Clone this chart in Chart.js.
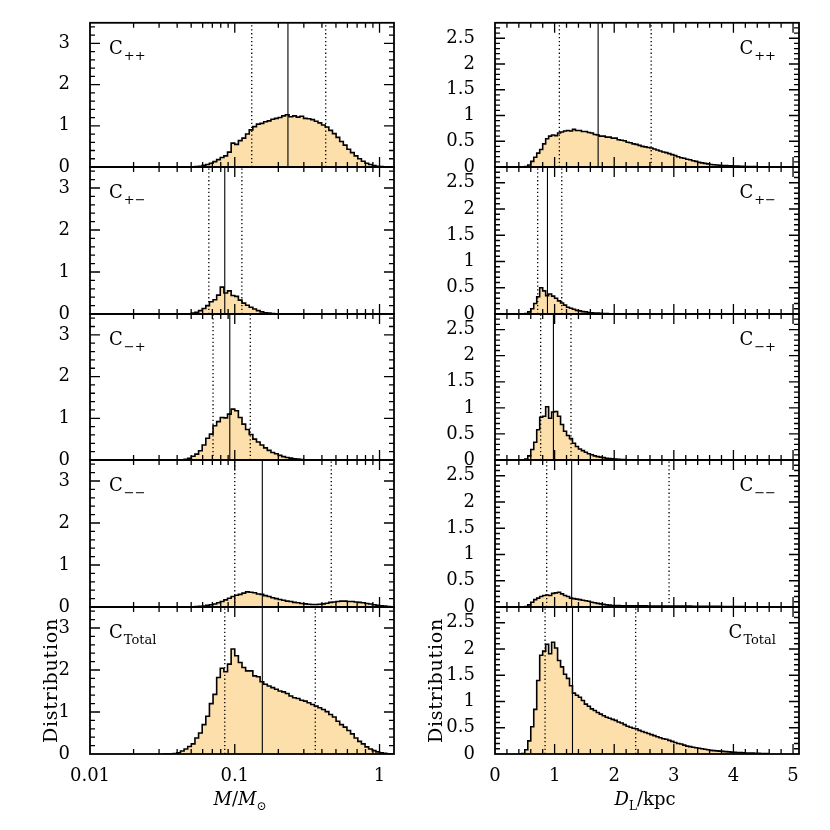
<!DOCTYPE html>
<html>
<head>
<meta charset="utf-8">
<script src="https://cdn.jsdelivr.net/npm/chart.js@4.4.1/dist/chart.umd.min.js"></script>
<style>
  html, body { margin: 0; padding: 0; background: #fff; }
  #wrap { position: relative; width: 830px; height: 830px; }
  #wrap canvas { position: absolute; top: 0; }
</style>
</head>
<body>
<div id="wrap"></div>
<script>
// Mass histograms: bins in log10(M/Msun)
const massLogStart = -1.5;
const massLogStep = 0.025;
// Distance histograms: bins in kpc
const distStart = 0.4;
const distStep = 0.05;

const massPP = [
  0, 0, 0, 0, 0, 0, 0, 0,
  0.005, 0.01, 0.02, 0.04, 0.06, 0.09, 0.13, 0.18,
  0.23, 0.27, 0.36, 0.58, 0.55, 0.64, 0.70, 0.80,
  0.90, 0.98, 1.04, 1.06, 1.10, 1.12, 1.16, 1.18,
  1.20, 1.24, 1.27, 1.22, 1.24, 1.21, 1.23, 1.18,
  1.17, 1.15, 1.11, 1.07, 1.02, 0.97, 0.89, 0.81,
  0.72, 0.62, 0.53, 0.43, 0.35, 0.27, 0.20, 0.14,
  0.09, 0.06, 0.035, 0.02, 0.01, 0.005, 0, 0
];
const massPM = [
  0, 0, 0, 0, 0, 0, 0, 0.005,
  0.02, 0.04, 0.08, 0.13, 0.20, 0.29, 0.34, 0.45,
  0.64, 0.50, 0.55, 0.44, 0.42, 0.33, 0.26, 0.21,
  0.16, 0.12, 0.08, 0.05, 0.03, 0.02, 0.01, 0.005
];
const massMP = [
  0, 0, 0, 0, 0, 0.005, 0.015, 0.04,
  0.09, 0.14, 0.22, 0.36, 0.52, 0.62, 0.82, 0.92,
  1.02, 1.01, 1.10, 1.22, 1.18, 1.02, 0.86, 0.73,
  0.61, 0.50, 0.43, 0.36, 0.29, 0.23, 0.18, 0.15,
  0.11, 0.08, 0.06, 0.045, 0.03, 0.02, 0.01, 0.005
];
const massMM = [
  0, 0, 0, 0, 0, 0, 0, 0,
  0.005, 0.01, 0.015, 0.025, 0.04, 0.055, 0.07, 0.10,
  0.13, 0.17, 0.21, 0.25, 0.28, 0.30, 0.33, 0.36,
  0.35, 0.34, 0.31, 0.30, 0.27, 0.25, 0.22, 0.20,
  0.18, 0.16, 0.14, 0.13, 0.11, 0.10, 0.085, 0.075,
  0.065, 0.06, 0.06, 0.065, 0.075, 0.09, 0.11, 0.12,
  0.13, 0.14, 0.14, 0.13, 0.13, 0.12, 0.11, 0.10,
  0.085, 0.07, 0.055, 0.04, 0.03, 0.02, 0.01, 0.005
];
const massTot = [
  0, 0, 0, 0.01, 0.03, 0.07, 0.12, 0.18,
  0.24, 0.38, 0.50, 0.70, 0.90, 1.20, 1.42, 1.82,
  2.04, 1.96, 2.14, 2.50, 2.34, 2.18, 2.06, 1.98,
  1.98, 1.86, 1.84, 1.72, 1.66, 1.62, 1.58, 1.54,
  1.50, 1.48, 1.44, 1.38, 1.34, 1.32, 1.28, 1.26,
  1.22, 1.18, 1.14, 1.10, 1.06, 1.01, 0.94, 0.88,
  0.78, 0.70, 0.64, 0.56, 0.48, 0.38, 0.30, 0.24,
  0.17, 0.12, 0.08, 0.05, 0.03, 0.015, 0.005, 0
];

const distPP = [
  0, 0, 0.01, 0.04, 0.11, 0.19, 0.27, 0.34, 0.45, 0.55,
  0.60, 0.62, 0.61, 0.66, 0.68, 0.70, 0.71, 0.70, 0.73, 0.71,
  0.71, 0.69, 0.69, 0.67, 0.66, 0.63, 0.62, 0.60, 0.60, 0.58,
  0.58, 0.56, 0.56, 0.53, 0.52, 0.51, 0.48, 0.47, 0.45, 0.44,
  0.42, 0.40, 0.39, 0.38, 0.37, 0.35, 0.33, 0.31, 0.29, 0.28,
  0.26, 0.24, 0.22, 0.20, 0.18, 0.17, 0.15, 0.14, 0.12, 0.11,
  0.09, 0.08, 0.07, 0.06, 0.05, 0.045, 0.04, 0.035, 0.03, 0.027,
  0.024, 0.022, 0.02, 0.017, 0.015, 0.013, 0.011, 0.01, 0.008, 0.007,
  0.006, 0.005, 0.004, 0.003
];
const distPM = [
  0, 0, 0.01, 0.04, 0.10, 0.20, 0.33, 0.50, 0.44, 0.35,
  0.38, 0.34, 0.30, 0.25, 0.21, 0.17, 0.13, 0.11, 0.09, 0.07,
  0.06, 0.045, 0.04, 0.03, 0.025, 0.02, 0.016, 0.013, 0.01, 0.008,
  0.006, 0.005, 0.004, 0.003
];
const distMP = [
  0, 0, 0.02, 0.08, 0.20, 0.34, 0.58, 0.82, 0.84, 1.02,
  0.80, 0.92, 0.93, 0.84, 0.68, 0.55, 0.47, 0.41, 0.32, 0.26,
  0.21, 0.18, 0.15, 0.12, 0.10, 0.08, 0.065, 0.055, 0.045, 0.035,
  0.028, 0.022, 0.017, 0.013, 0.01, 0.008, 0.006, 0.005, 0.004, 0.003,
  0.002
];
const distMM = [
  0, 0, 0.01, 0.04, 0.09, 0.14, 0.17, 0.20, 0.22, 0.23,
  0.22, 0.26, 0.27, 0.28, 0.25, 0.22, 0.20, 0.17, 0.16, 0.15,
  0.14, 0.13, 0.12, 0.11, 0.09, 0.08, 0.07, 0.06, 0.05, 0.04,
  0.035, 0.03, 0.028, 0.026, 0.025, 0.024, 0.023, 0.022, 0.022, 0.022,
  0.021, 0.021, 0.021, 0.02, 0.02, 0.02, 0.02, 0.02, 0.019, 0.019,
  0.019, 0.018, 0.018, 0.018, 0.017, 0.017, 0.016, 0.016, 0.015, 0.015,
  0.014, 0.014, 0.013, 0.013, 0.012, 0.012, 0.011, 0.011, 0.01, 0.01,
  0.009, 0.009, 0.008, 0.008, 0.007, 0.007, 0.006, 0.006, 0.005, 0.005,
  0.005, 0.004, 0.004, 0.004
];
const distTot = [
  0, 0.01, 0.08, 0.25, 0.52, 0.85, 1.40, 1.88, 1.96, 2.09,
  1.91, 2.13, 2.02, 1.78, 1.66, 1.52, 1.44, 1.30, 1.16, 1.12,
  1.08, 1.02, 0.95, 0.91, 0.86, 0.83, 0.79, 0.76, 0.73, 0.70,
  0.68, 0.66, 0.64, 0.61, 0.59, 0.56, 0.53, 0.51, 0.49, 0.48,
  0.45, 0.43, 0.41, 0.39, 0.37, 0.35, 0.33, 0.31, 0.29, 0.28,
  0.26, 0.24, 0.22, 0.20, 0.19, 0.17, 0.15, 0.14, 0.13, 0.12,
  0.11, 0.10, 0.09, 0.08, 0.07, 0.065, 0.06, 0.055, 0.05, 0.045,
  0.04, 0.036, 0.032, 0.029, 0.026, 0.023, 0.02, 0.018, 0.016, 0.014,
  0.012, 0.01, 0.009, 0.008
];

const panelNames = ["++", "+\u2212", "\u2212+", "\u2212\u2212", "Total"];
const massSeries = [massPP, massPM, massMP, massMM, massTot];
const distSeries = [distPP, distPM, distMP, distMM, distTot];

// lower quantile, median, upper quantile (vertical lines)
const massLow = [0.131, 0.0662, 0.0708, 0.100, 0.0853];
const massMed = [0.233, 0.0853, 0.0924, 0.155, 0.155];
const massHigh = [0.425, 0.112, 0.128, 0.464, 0.360];
const distLow = [1.08, 0.716, 0.766, 0.867, 0.84];
const distMed = [1.73, 0.88, 0.98, 1.286, 1.30];
const distHigh = [2.62, 1.12, 1.275, 2.92, 2.36];

const massTicks = [0.01, 0.1, 1];
const distTicks = [0, 1, 2, 3, 4, 5];
const massYTicks = [0, 1, 2, 3];
const distYTicks = [0, 0.5, 1, 1.5, 2, 2.5];

const FILL = "rgb(253, 223, 172)";
const FONT = "'DejaVu Serif'";
const PANEL_TOP = 20;
const PANEL_H = 146.8;

Chart.defaults.font.family = FONT;
Chart.defaults.font.size = 18;
Chart.defaults.color = "#000";

function logMinor(min, max) {
  const out = [];
  for (let d = 0.001; d < max; d *= 10) {
    for (let k = 2; k <= 9; k++) {
      const v = d * k;
      if (v > min && v < max) out.push(v);
    }
  }
  return out;
}
function linMinor(min, max, step) {
  const out = [];
  for (let i = 1; min + i * step < max - 1e-9; i++) out.push(min + i * step);
  return out;
}

function drawRuns(ctx, runs, cx, base) {
  let w = 0;
  runs.forEach((r) => {
    ctx.font = r.font;
    r.w = ctx.measureText(r.t).width;
    w += r.w;
  });
  let x = cx - w / 2;
  runs.forEach((r) => {
    ctx.font = r.font;
    ctx.fillText(r.t, x, base + (r.dy || 0));
    x += r.w;
  });
}

// frame, inward ticks on all four sides, panel label, axis titles
const framePlugin = {
  id: "frame",
  afterDatasetsDraw(chart, args, o) {
    const { ctx, chartArea: a } = chart;
    const xs = chart.scales.x;
    const ys = chart.scales.y;
    ctx.save();
    ctx.strokeStyle = "#000";
    ctx.lineWidth = 1.3;
    ctx.beginPath();
    const tickX = (v, len) => {
      const p = xs.getPixelForValue(v);
      if (p <= a.left + 1 || p >= a.right - 1) return;
      ctx.moveTo(p, a.bottom);
      ctx.lineTo(p, a.bottom - len);
      ctx.moveTo(p, a.top);
      ctx.lineTo(p, a.top + len);
    };
    const tickY = (v, len) => {
      const p = ys.getPixelForValue(v);
      if (p <= a.top + 1 || p >= a.bottom - 1) return;
      ctx.moveTo(a.left, p);
      ctx.lineTo(a.left + len, p);
      ctx.moveTo(a.right, p);
      ctx.lineTo(a.right - len, p);
    };
    o.xMinor.forEach((v) => tickX(v, 5));
    o.xMajor.forEach((v) => tickX(v, 10));
    o.yMinor.forEach((v) => tickY(v, 5));
    o.yMajor.forEach((v) => tickY(v, 10));
    ctx.stroke();
    ctx.lineWidth = 1.8;
    ctx.strokeRect(a.left, a.top, a.right - a.left, a.bottom - a.top);

    // panel label C with subscript
    ctx.fillStyle = "#000";
    ctx.textAlign = "left";
    ctx.textBaseline = "alphabetic";
    const big = "18px " + FONT;
    const small = "13px " + FONT;
    ctx.font = big;
    const cw = ctx.measureText("C").width;
    ctx.font = small;
    const sw = ctx.measureText(o.sub).width;
    const x0 = o.labelLeft ? a.left + 19 : a.right - 23 - cw - 1 - sw;
    const base = a.top + 31;
    ctx.font = big;
    ctx.fillText("C", x0, base);
    ctx.font = small;
    ctx.fillText(o.sub, x0 + cw + 1, base + 6);

    if (o.xTitle) {
      drawRuns(ctx, o.xTitle, a.left + 150, a.bottom + 51);
      ctx.save();
      ctx.translate(a.left - o.yTitleGap, (a.top + a.bottom) / 2);
      ctx.rotate(-Math.PI / 2);
      ctx.font = "19px " + FONT;
      ctx.letterSpacing = "0.8px";
      ctx.textAlign = "center";
      ctx.textBaseline = "middle";
      ctx.fillText("Distribution", 0, 0);
      ctx.restore();
    }
    ctx.restore();
  },
};

const wrap = document.getElementById("wrap");

function vline(x, yMax, dotted) {
  return {
    data: [{ x: x, y: 0 }, { x: x, y: yMax }],
    borderColor: "#000",
    borderWidth: dotted ? 1.3 : 1.1,
    borderDash: dotted ? [1.3, 2.6] : [],
    pointRadius: 0,
    fill: false,
    order: 1,
  };
}

function makePanel(col, k) {
  const isMass = col === 0;
  const last = k === 4;
  const top = Math.round(PANEL_TOP + k * PANEL_H);
  const bottom = Math.round(PANEL_TOP + (k + 1) * PANEL_H);

  const values = isMass ? massSeries[k] : distSeries[k];
  const edge = (i) =>
    isMass ? Math.pow(10, massLogStart + i * massLogStep) : distStart + i * distStep;
  const hist = values.map((v, i) => ({ x: edge(i), y: v }));
  hist.push({ x: edge(values.length), y: 0 });

  const xMin = isMass ? 0.01 : 0;
  const xMax = isMass ? Math.pow(10, 0.1) : 5.1;
  const yMax = isMass ? 3.5 : 2.8;
  const xMajor = isMass ? massTicks : distTicks;
  const yMajor = isMass ? massYTicks : distYTicks;

  const canvas = document.createElement("canvas");
  canvas.width = 415;
  canvas.height = 830;
  canvas.style.left = col * 415 + "px";
  wrap.appendChild(canvas);

  const lows = isMass ? massLow : distLow;
  const meds = isMass ? massMed : distMed;
  const highs = isMass ? massHigh : distHigh;
  const tickFont = { family: FONT, size: 18 };

  new Chart(canvas, {
    type: "line",
    data: {
      datasets: [
        vline(lows[k], yMax, true),
        vline(meds[k], yMax, false),
        vline(highs[k], yMax, true),
        {
          data: hist,
          stepped: true,
          fill: "origin",
          backgroundColor: FILL,
          borderColor: "#000",
          borderWidth: 1.6,
          pointRadius: 0,
          order: 2,
        },
      ],
    },
    options: {
      responsive: false,
      animation: false,
      events: [],
      layout: {
        padding: { top: top, bottom: last ? 0 : 830 - bottom, left: 0, right: isMass ? 21 : 31 },
      },
      plugins: {
        legend: { display: false },
        tooltip: { enabled: false },
        frame: {
          xMajor: xMajor,
          xMinor: isMass ? logMinor(xMin, xMax) : linMinor(0, 5.1, 0.2),
          yMajor: yMajor,
          yMinor: isMass ? linMinor(0, 3.5, 0.2) : linMinor(0, 2.8, 0.1),
          sub: panelNames[k],
          labelLeft: isMass,
          yTitleGap: isMass ? 38 : 58,
          xTitle: !last
            ? null
            : isMass
            ? [
                { t: "M", font: "italic 18px " + FONT },
                { t: "/", font: "18px " + FONT },
                { t: "M", font: "italic 18px " + FONT },
                { t: "\u2299", font: "12px " + FONT, dy: 5 },
              ]
            : [
                { t: "D", font: "italic 18px " + FONT },
                { t: "L", font: "12px " + FONT, dy: 5 },
                { t: "/kpc", font: "18px " + FONT },
              ],
        },
      },
      scales: {
        x: {
          type: isMass ? "logarithmic" : "linear",
          min: xMin,
          max: xMax,
          grid: { display: false },
          border: { display: false },
          ticks: {
            display: last,
            padding: 4,
            maxRotation: 0,
            autoSkip: false,
            font: tickFont,
            callback: (v) => String(v),
          },
          afterBuildTicks: (s) => {
            s.ticks = xMajor.map((v) => ({ value: v }));
          },
          afterFit: (s) => {
            s.height = last ? 830 - bottom : 0;
          },
        },
        y: {
          min: 0,
          max: yMax,
          grid: { display: false },
          border: { display: false },
          ticks: { padding: 12, autoSkip: false, font: tickFont, callback: (v) => String(v) },
          afterBuildTicks: (s) => {
            s.ticks = yMajor.map((v) => ({ value: v }));
          },
          afterFit: (s) => {
            s.width = isMass ? 90 : 80;
          },
        },
      },
    },
    plugins: [framePlugin],
  });
}

for (let col = 0; col < 2; col++) {
  for (let k = 0; k < 5; k++) makePanel(col, k);
}
</script>
</body>
</html>
